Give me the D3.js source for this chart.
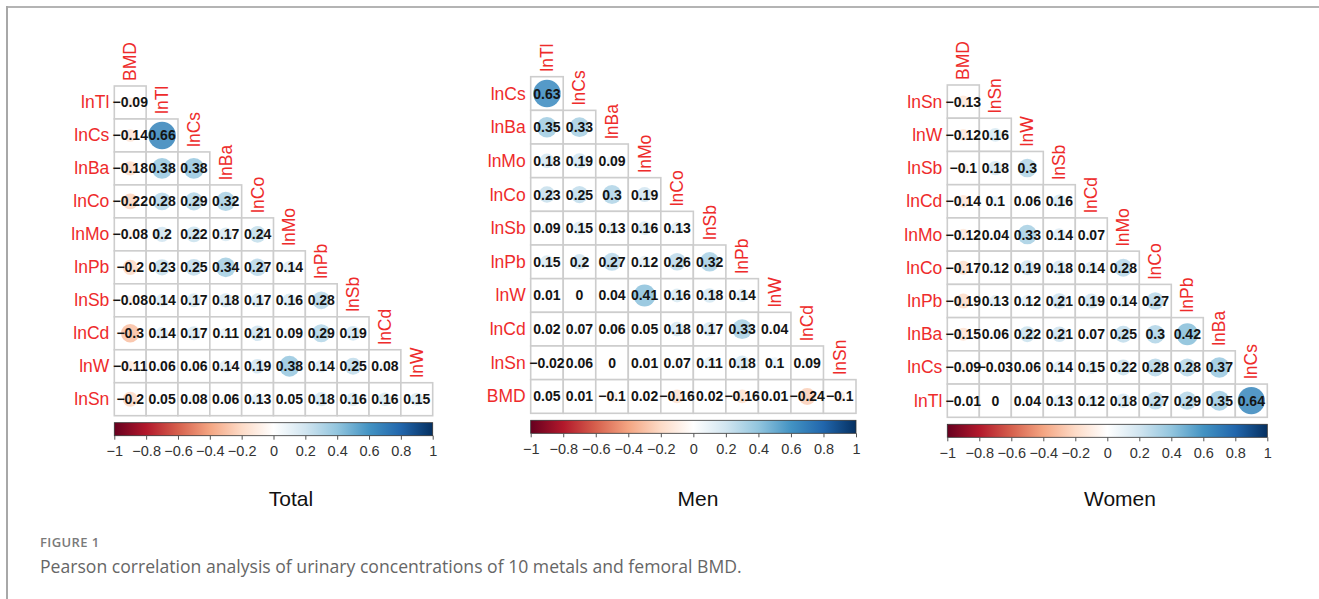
<!DOCTYPE html>
<html>
<head>
<meta charset="utf-8">
<script src="https://cdn.jsdelivr.net/npm/d3@7"></script>
<style>
  html, body { margin: 0; padding: 0; background: #fff; }
  svg { display: block; }
</style>
</head>
<body>
<svg id="fig" width="1319" height="599"></svg>
<script>
// Lower-triangle Pearson correlation matrices (rows x cols), one per group
const rowsTotal = ["lnTl", "lnCs", "lnBa", "lnCo", "lnMo", "lnPb", "lnSb", "lnCd", "lnW", "lnSn"];
const colsTotal = ["BMD", "lnTl", "lnCs", "lnBa", "lnCo", "lnMo", "lnPb", "lnSb", "lnCd", "lnW"];
const valuesTotal = [
  [-0.09],
  [-0.14, 0.66],
  [-0.18, 0.38, 0.38],
  [-0.22, 0.28, 0.29, 0.32],
  [-0.08, 0.2, 0.22, 0.17, 0.24],
  [-0.2, 0.23, 0.25, 0.34, 0.27, 0.14],
  [-0.08, 0.14, 0.17, 0.18, 0.17, 0.16, 0.28],
  [-0.3, 0.14, 0.17, 0.11, 0.21, 0.09, 0.29, 0.19],
  [-0.11, 0.06, 0.06, 0.14, 0.19, 0.38, 0.14, 0.25, 0.08],
  [-0.2, 0.05, 0.08, 0.06, 0.13, 0.05, 0.18, 0.16, 0.16, 0.15]
];

const rowsMen = ["lnCs", "lnBa", "lnMo", "lnCo", "lnSb", "lnPb", "lnW", "lnCd", "lnSn", "BMD"];
const colsMen = ["lnTl", "lnCs", "lnBa", "lnMo", "lnCo", "lnSb", "lnPb", "lnW", "lnCd", "lnSn"];
const valuesMen = [
  [0.63],
  [0.35, 0.33],
  [0.18, 0.19, 0.09],
  [0.23, 0.25, 0.3, 0.19],
  [0.09, 0.15, 0.13, 0.16, 0.13],
  [0.15, 0.2, 0.27, 0.12, 0.26, 0.32],
  [0.01, 0, 0.04, 0.41, 0.16, 0.18, 0.14],
  [0.02, 0.07, 0.06, 0.05, 0.18, 0.17, 0.33, 0.04],
  [-0.02, 0.06, 0, 0.01, 0.07, 0.11, 0.18, 0.1, 0.09],
  [0.05, 0.01, -0.1, 0.02, -0.16, 0.02, -0.16, 0.01, -0.24, -0.1]
];

const rowsWomen = ["lnSn", "lnW", "lnSb", "lnCd", "lnMo", "lnCo", "lnPb", "lnBa", "lnCs", "lnTl"];
const colsWomen = ["BMD", "lnSn", "lnW", "lnSb", "lnCd", "lnMo", "lnCo", "lnPb", "lnBa", "lnCs"];
const valuesWomen = [
  [-0.13],
  [-0.12, 0.16],
  [-0.1, 0.18, 0.3],
  [-0.14, 0.1, 0.06, 0.16],
  [-0.12, 0.04, 0.33, 0.14, 0.07],
  [-0.17, 0.12, 0.19, 0.18, 0.14, 0.28],
  [-0.19, 0.13, 0.12, 0.21, 0.19, 0.14, 0.27],
  [-0.15, 0.06, 0.22, 0.21, 0.07, 0.25, 0.3, 0.42],
  [-0.09, -0.03, 0.06, 0.14, 0.15, 0.22, 0.28, 0.28, 0.37],
  [-0.01, 0, 0.04, 0.13, 0.12, 0.18, 0.27, 0.29, 0.35, 0.64]
];

const panelTitles = ["Total", "Men", "Women"];
const legendTicks = [-1, -0.8, -0.6, -0.4, -0.2, 0, 0.2, 0.4, 0.6, 0.8, 1];
const captionLabel = "FIGURE 1";
const captionText = "Pearson correlation analysis of urinary concentrations of 10 metals and femoral BMD.";

// Diverging red-blue palette used for circles and colour bar
const palette = ["#67001F", "#B2182B", "#D6604D", "#F4A582", "#FDDBC7", "#FFFFFF",
                 "#D1E5F0", "#92C5DE", "#4393C3", "#2166AC", "#053061"];
const color = d3.scaleLinear()
  .domain(palette.map((_, i) => -1 + i * 0.2))
  .range(palette)
  .interpolate(d3.interpolateRgb);

const svg = d3.select("#fig");
const FONT = "'Liberation Sans', Arial, Helvetica, sans-serif";
const LABEL_RED = "#ee2b2b";

// figure frame (top and left rules)
svg.append("line").attr("x1", 6).attr("x2", 1319).attr("y1", 7).attr("y2", 7)
  .attr("stroke", "#b4b4b4").attr("stroke-width", 2);
svg.append("line").attr("x1", 7).attr("x2", 7).attr("y1", 6).attr("y2", 599)
  .attr("stroke", "#a8a8a8").attr("stroke-width", 2);

const fmt = v => String(v).replace("-", "\u2212");

function drawPanel(cfg) {
  const g = svg.append("g");
  const x = d3.scaleBand().domain(cfg.cols).range([cfg.x0, cfg.x1]);
  const y = d3.scaleBand().domain(cfg.rows).range([cfg.y0, cfg.y1]);
  const cw = x.bandwidth(), ch = y.bandwidth();

  const cells = [];
  cfg.values.forEach((row, i) => row.forEach((v, j) => {
    cells.push({ r: cfg.rows[i], c: cfg.cols[j], v });
  }));

  // cell grid
  g.selectAll("rect.cell").data(cells).join("rect")
    .attr("class", "cell")
    .attr("x", d => x(d.c)).attr("y", d => y(d.r))
    .attr("width", cw).attr("height", ch)
    .attr("fill", "#fff").attr("stroke", "#cdcdcd").attr("stroke-width", 1.6);

  // circles: area proportional to |r|
  const rad = d3.scaleSqrt().domain([0, 1]).range([0, cw * 0.53]);
  g.selectAll("circle").data(cells).join("circle")
    .attr("cx", d => x(d.c) + cw / 2).attr("cy", d => y(d.r) + ch / 2)
    .attr("r", d => rad(Math.abs(d.v)))
    .attr("fill", d => color(d.v)).attr("opacity", 0.88);

  // coefficient labels
  g.selectAll("text.val").data(cells).join("text")
    .attr("class", "val")
    .attr("x", d => x(d.c) + cw / 2).attr("y", d => y(d.r) + ch / 2)
    .attr("text-anchor", "middle").attr("dominant-baseline", "central")
    .attr("font-family", FONT).attr("font-weight", "bold").attr("font-size", 14)
    .attr("fill", "#141414")
    .text(d => fmt(d.v));

  // row labels
  g.selectAll("text.rl").data(cfg.rows).join("text")
    .attr("class", "rl")
    .attr("x", cfg.x0 - 5).attr("y", d => y(d) + ch / 2)
    .attr("text-anchor", "end").attr("dominant-baseline", "central")
    .attr("font-family", FONT).attr("font-size", 17.5).attr("fill", LABEL_RED)
    .text(d => d);

  // column labels, rotated, sitting above the first cell of each column
  g.selectAll("text.cl").data(cfg.cols).join("text")
    .attr("class", "cl")
    .attr("transform", (d, j) => `translate(${x(d) + cw / 2 + 6},${y(cfg.rows[j]) - 5}) rotate(-90)`)
    .attr("text-anchor", "start")
    .attr("font-family", FONT).attr("font-size", 17.5).attr("fill", LABEL_RED)
    .text(d => d);

  // colour bar
  const gradId = "grad" + cfg.key;
  const grad = svg.append("defs").append("linearGradient").attr("id", gradId)
    .attr("x1", "0%").attr("x2", "100%").attr("y1", "0%").attr("y2", "0%");
  palette.forEach((c, i) => grad.append("stop")
    .attr("offset", (i / (palette.length - 1) * 100) + "%").attr("stop-color", c));

  const lx = d3.scaleLinear().domain([-1, 1]).range([cfg.x0, cfg.x1]);
  const by = cfg.y1 + 7, bh = 13;
  g.append("rect").attr("x", cfg.x0).attr("y", by)
    .attr("width", cfg.x1 - cfg.x0).attr("height", bh)
    .attr("fill", `url(#${gradId})`).attr("stroke", "#333").attr("stroke-width", 0.8);

  const axis = d3.axisBottom(lx).tickValues(legendTicks).tickSize(4).tickSizeOuter(0)
    .tickFormat(d => fmt(+d.toFixed(1)));
  const ax = g.append("g").attr("transform", `translate(0,${by + bh})`).call(axis);
  ax.select(".domain").remove();
  ax.selectAll("line").attr("stroke", "#555");
  ax.selectAll("text").attr("font-family", FONT).attr("font-size", 14.5)
    .attr("fill", "#333").attr("dy", "0.95em");

  // panel title
  svg.append("text").attr("x", cfg.tx).attr("y", 498)
    .attr("text-anchor", "middle").attr("dominant-baseline", "central")
    .attr("font-family", FONT).attr("font-size", 21).attr("fill", "#111")
    .text(cfg.title);
}

drawPanel({ key: "t", rows: rowsTotal, cols: colsTotal, values: valuesTotal,
  x0: 114.3, x1: 432.7, y0: 86, y1: 415.7, tx: 291, title: panelTitles[0] });
drawPanel({ key: "m", rows: rowsMen, cols: colsMen, values: valuesMen,
  x0: 530.7, x1: 856, y0: 76.7, y1: 413.3, tx: 698, title: panelTitles[1] });
drawPanel({ key: "w", rows: rowsWomen, cols: colsWomen, values: valuesWomen,
  x0: 947.3, x1: 1267.3, y0: 85, y1: 417.3, tx: 1120, title: panelTitles[2] });

// caption
svg.append("text").attr("x", 40).attr("y", 542).attr("dominant-baseline", "central")
  .attr("font-family", "'Open Sans', sans-serif").attr("font-size", 13).attr("font-weight", 600)
  .attr("letter-spacing", 0.4).attr("fill", "#7a7a7a").text(captionLabel);
svg.append("text").attr("x", 40).attr("y", 566).attr("dominant-baseline", "central")
  .attr("font-family", "'Open Sans', sans-serif").attr("font-size", 17.6).attr("font-weight", 400)
  .attr("fill", "#666").text(captionText);
</script>
</body>
</html>
